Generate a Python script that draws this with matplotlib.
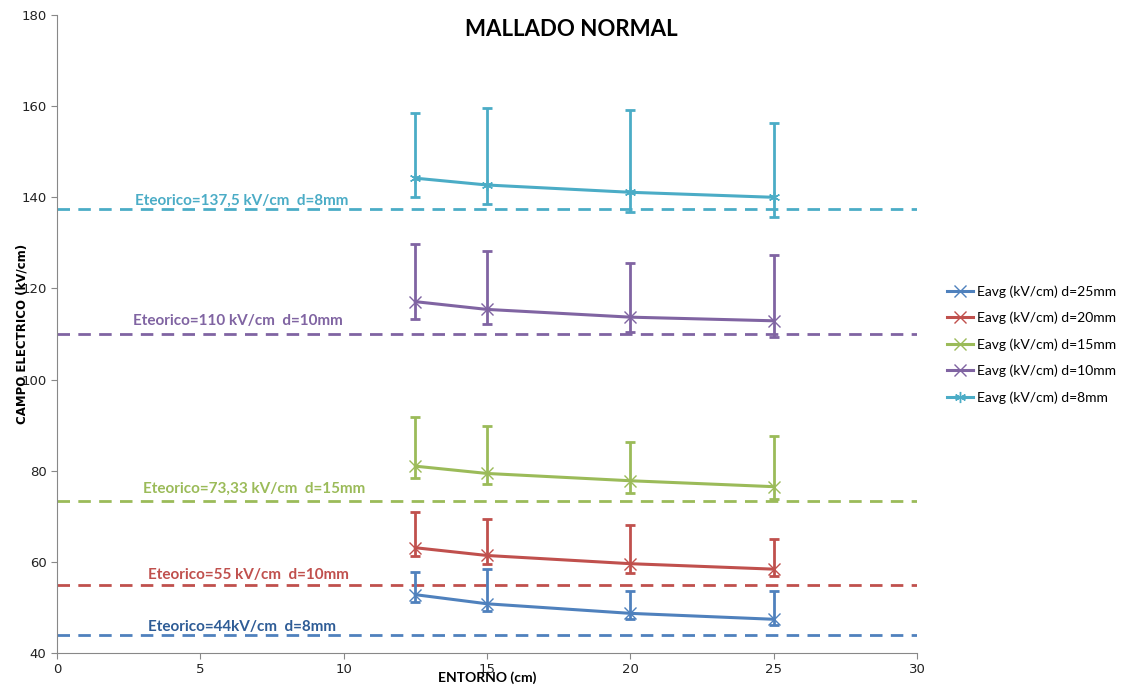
import matplotlib.pyplot as plt

# --- Datos ---
entorno = [12.5, 15, 20, 25]

series_nombres = ["Eavg (kV/cm) d=25mm", "Eavg (kV/cm) d=20mm", "Eavg (kV/cm) d=15mm",
                  "Eavg (kV/cm) d=10mm", "Eavg (kV/cm) d=8mm"]

eavg_d25 = [52.8, 50.8, 48.7, 47.4]
min_d25 = [51.3, 49.3, 47.4, 46.1]
max_d25 = [57.8, 58.4, 53.7, 53.7]

eavg_d20 = [63.1, 61.4, 59.6, 58.4]
min_d20 = [61.3, 59.5, 57.5, 56.9]
max_d20 = [70.9, 69.3, 68.0, 65.0]

eavg_d15 = [81.0, 79.4, 77.8, 76.5]
min_d15 = [78.4, 77.0, 75.2, 73.7]
max_d15 = [91.7, 89.9, 86.3, 87.7]

eavg_d10 = [117.1, 115.4, 113.7, 112.9]
min_d10 = [113.4, 112.3, 110.4, 109.4]
max_d10 = [129.8, 128.3, 125.5, 127.4]

eavg_d8 = [144.2, 142.7, 141.1, 140.0]
min_d8 = [140.0, 138.6, 136.8, 135.7]
max_d8 = [158.5, 159.7, 159.2, 156.4]

e_teorico = [44, 55, 73.33, 110, 137.5]
textos_teorico = ["Eteorico=44kV/cm  d=8mm", "Eteorico=55 kV/cm  d=10mm",
                  "Eteorico=73,33 kV/cm  d=15mm", "Eteorico=110 kV/cm  d=10mm",
                  "Eteorico=137,5 kV/cm  d=8mm"]

# --- Estilo ---
colores = ["#4F81BD", "#C0504D", "#9BBB59", "#8064A2", "#4BACC6"]
colores_texto = ["#2E5C96", "#C0504D", "#9BBB59", "#8064A2", "#4BACC6"]
marcadores = ["x", "x", "x", "x", (6, 2, 0)]
texto_x = [3.17, 3.17, 3.0, 2.65, 2.72]
texto_dy = [8, 10, 12, 13, 8]

medias = [eavg_d25, eavg_d20, eavg_d15, eavg_d10, eavg_d8]
minimos = [min_d25, min_d20, min_d15, min_d10, min_d8]
maximos = [max_d25, max_d20, max_d15, max_d10, max_d8]

fig = plt.figure(figsize=(11.26, 6.86), dpi=100)
ax = fig.add_axes([0.0506, 0.0481, 0.7638, 0.930])

for i in range(5):
    c = colores[i]
    y = medias[i]
    err_lo = [m - lo for m, lo in zip(y, minimos[i])]
    err_hi = [hi - m for m, hi in zip(y, maximos[i])]
    ax.errorbar(entorno, y, yerr=[err_lo, err_hi], fmt="none", ecolor=c,
                elinewidth=2, capsize=3.5, capthick=2, zorder=3)
    ax.plot(entorno, y, color=c, lw=2.2, marker=marcadores[i], markersize=8,
            mew=1, mec=c, label=series_nombres[i], zorder=4)
    ax.axhline(e_teorico[i], color=c, lw=2, linestyle=(0, (4.5, 3)), zorder=2)
    ax.annotate(textos_teorico[i], (texto_x[i], e_teorico[i]), xytext=(0, texto_dy[i]),
                textcoords="offset pixels", va="center", ha="left", fontsize=11,
                fontweight="bold", color=colores_texto[i], family="Lato")

ax.set_xlim(0, 30)
ax.set_ylim(40, 180)
ax.set_xticks(range(0, 31, 5))
ax.set_yticks(range(40, 181, 20))
for s in ["top", "right"]:
    ax.spines[s].set_visible(False)
for s in ["left", "bottom"]:
    ax.spines[s].set_color("#888888")
ax.tick_params(colors="#888888", labelcolor="#222222", labelsize=9.5, length=4)

fig.text(571 / 1126, 1 - 29 / 686, "MALLADO NORMAL", fontsize=16, fontweight="bold",
         family="Lato", ha="center", va="center")
ax.set_xlabel("ENTORNO (cm)", fontsize=10, fontweight="bold", family="Lato", labelpad=-4)
ax.set_ylabel("CAMPO ELECTRICO (kV/cm)", fontsize=8.5, fontweight="bold",
              family="Liberation Sans Narrow", labelpad=-5)

ax.legend(loc="upper left", bbox_to_anchor=(1.02, 0.596), frameon=False,
          handlelength=1.9, handletextpad=0.25, labelspacing=1.0,
          prop={"family": "Lato", "size": 10})

fig.savefig("out.png", dpi=100)
